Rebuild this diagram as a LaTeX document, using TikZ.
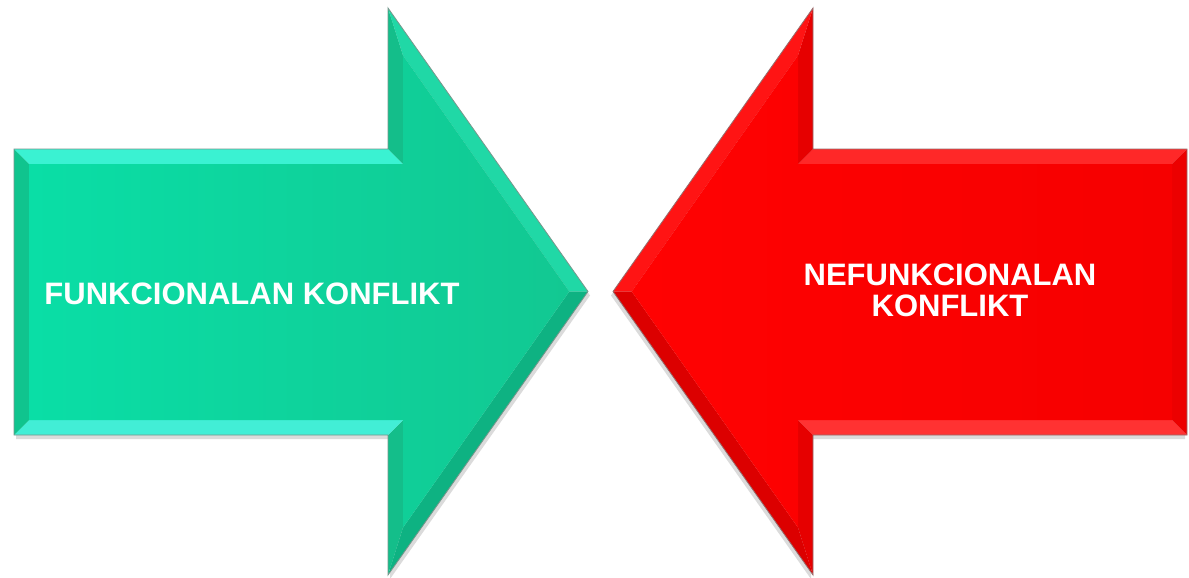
\documentclass[tikz,border=0pt]{standalone}
\usepackage{fontspec}
\setmainfont{Liberation Sans}
\usetikzlibrary{calc}

% green arrow palette
\definecolor{gL}{RGB}{10,222,166}
\definecolor{gR}{RGB}{18,200,146}
\definecolor{gtop}{RGB}{58,242,210}
\definecolor{gbot}{RGB}{66,238,214}
\definecolor{gside}{RGB}{16,196,142}
\definecolor{gvert}{RGB}{20,190,138}
\definecolor{gup}{RGB}{32,216,166}
\definecolor{gdown}{RGB}{14,178,130}
\definecolor{gedge}{RGB}{120,150,140}
% red arrow palette
\definecolor{rL}{RGB}{255,2,2}
\definecolor{rR}{RGB}{246,0,0}
\definecolor{rtop}{RGB}{255,40,40}
\definecolor{rbot}{RGB}{255,50,50}
\definecolor{rside}{RGB}{236,0,0}
\definecolor{rvert}{RGB}{230,0,0}
\definecolor{rup}{RGB}{255,20,20}
\definecolor{rdown}{RGB}{220,0,0}
\definecolor{redge}{RGB}{150,110,110}

\tikzset{
  lbl/.style={text=white, font=\bfseries\fontsize{31}{31}\selectfont, inner sep=0pt, align=center}
}

% a bevelled block arrow pointing right; #1 is the palette prefix
\newcommand\drawbevelarrow[1]{%
  \coordinate (A) at (14,149);
  \coordinate (B) at (388,149);
  \coordinate (C) at (388,8);
  \coordinate (D) at (588,291.5);
  \coordinate (E) at (388,575);
  \coordinate (F) at (388,435);
  \coordinate (G) at (14,435);
  \coordinate (a) at (29,164);
  \coordinate (b) at (403,164);
  \coordinate (c) at (403,55.4);
  \coordinate (d) at (569.3,291.5);
  \coordinate (e) at (403,527.6);
  \coordinate (f) at (403,420);
  \coordinate (g) at (29,420);
  % soft shadow
  \fill[black,opacity=.14] ([shift={(2,4)}]A) -- ([shift={(2,4)}]B) -- ([shift={(2,4)}]C) -- ([shift={(2,4)}]D)
     -- ([shift={(2,4)}]E) -- ([shift={(2,4)}]F) -- ([shift={(2,4)}]G) -- cycle;
  % bevel facets
  \fill[#1top]  (A) -- (B) -- (b) -- (a) -- cycle;
  \fill[#1vert] (B) -- (C) -- (c) -- (b) -- cycle;
  \fill[#1up]   (C) -- (D) -- (d) -- (c) -- cycle;
  \fill[#1down] (D) -- (E) -- (e) -- (d) -- cycle;
  \fill[#1vert] (E) -- (F) -- (f) -- (e) -- cycle;
  \fill[#1bot]  (F) -- (G) -- (g) -- (f) -- cycle;
  \fill[#1side] (G) -- (A) -- (a) -- (g) -- cycle;
  % face
  \shade[left color=#1L, right color=#1R] (a) -- (b) -- (c) -- (d) -- (e) -- (f) -- (g) -- cycle;
  % rim
  \draw[#1edge, line width=0.8pt, line join=miter]
    (A) -- (B) -- (C) -- (D) -- (E) -- (F) -- (G) -- cycle;
}

\begin{document}
\begin{tikzpicture}[x=1pt,y=-1pt]
  \useasboundingbox (0,0) rectangle (1189,578);
  \fill[white] (0,0) rectangle (1189,578);

  \begin{scope}
    \drawbevelarrow{g}
  \end{scope}
  \begin{scope}[xshift=1201pt, xscale=-1]
    \drawbevelarrow{r}
  \end{scope}

  \node[lbl] (fk) at (252,293.5) {FUNKCIONALAN KONFLIKT};
  \node[lbl] (nk) at (950,290.5) {NEFUNKCIONALAN\\KONFLIKT};
\end{tikzpicture}
\end{document}
